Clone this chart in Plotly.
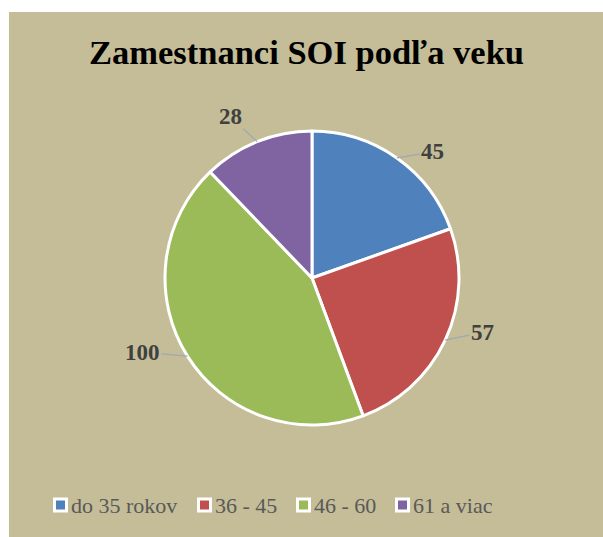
import math
import plotly.graph_objects as go

categories = ["do 35 rokov", "36 - 45", "46 - 60", "61 a viac"]
values = [45, 57, 100, 28]
colors = ["#4F81BD", "#C0504D", "#9BBB59", "#8064A2"]
title_text = "Zamestnanci SOI podľa veku"

W, H = 603, 537
cx, cy, R = 312, 278, 147  # pixel centre / radius of the pie
SERIF = "Times New Roman, Liberation Serif, DejaVu Serif, serif"

# label offsets (pixels, relative to slice edge point) - styling only
label_offsets = [(36, -6), (37, -8), (-45, -4), (-27, -25)]
# legend item x positions (pixels) - layout only
legend_x = [53, 197, 296, 395]
legend_y = 505

fig = go.Figure()
fig.add_trace(go.Pie(
    labels=categories,
    values=values,
    sort=False,
    direction="clockwise",
    rotation=0,
    textinfo="none",
    hoverinfo="label+value",
    marker=dict(colors=colors, line=dict(color="white", width=3)),
    domain=dict(x=[(cx - R) / W, (cx + R) / W],
                y=[(H - cy - R) / H, (H - cy + R) / H]),
))

total = sum(values)
cum = 0
annotations = [dict(
    text="<b>" + title_text + "</b>", x=(9 + W) / 2 / W, y=1 - 52 / H,
    xref="paper", yref="paper", showarrow=False,
    font=dict(family=SERIF, size=34.5, color="#000000"),
    xanchor="center", yanchor="middle")]
for v, (dx, dy) in zip(values, label_offsets):
    mid = (cum + v / 2) / total * 2 * math.pi
    cum += v
    px = cx + R * math.sin(mid)
    py = cy - R * math.cos(mid)
    annotations.append(dict(
        text="<b>%d</b>" % v,
        x=px / W, y=1 - py / H, xref="paper", yref="paper",
        ax=dx, ay=dy, axref="pixel", ayref="pixel",
        showarrow=True, arrowhead=0, arrowwidth=1.3, arrowcolor="#9FA8B4",
        standoff=0, startstandoff=0,
        font=dict(family=SERIF, size=23, color="#404040"),
    ))

shapes = [dict(type="rect", xref="paper", yref="paper",
               x0=9 / W, x1=1, y0=0, y1=1 - 12 / H,
               fillcolor="#C4BD97", line=dict(width=0), layer="below")]
for name, col, lx in zip(categories, colors, legend_x):
    shapes.append(dict(type="rect", xref="paper", yref="paper",
                       x0=(lx + 1.5) / W, x1=(lx + 13.5) / W,
                       y0=1 - (legend_y + 6) / H, y1=1 - (legend_y - 6) / H,
                       fillcolor=col, line=dict(color="white", width=3)))
    annotations.append(dict(
        text=name, x=(lx + 16) / W, y=1 - legend_y / H, xref="paper", yref="paper",
        showarrow=False, xanchor="left", yanchor="middle",
        font=dict(family=SERIF, size=22, color="#595959")))

fig.update_layout(
    width=W, height=H,
    margin=dict(l=0, r=0, t=0, b=0),
    paper_bgcolor="white",
    plot_bgcolor="white",
    showlegend=False,
    shapes=shapes,
    annotations=annotations,
)

fig.write_html("out.html", post_script="document.body.style.margin='0';",
               config={"displayModeBar": False})
